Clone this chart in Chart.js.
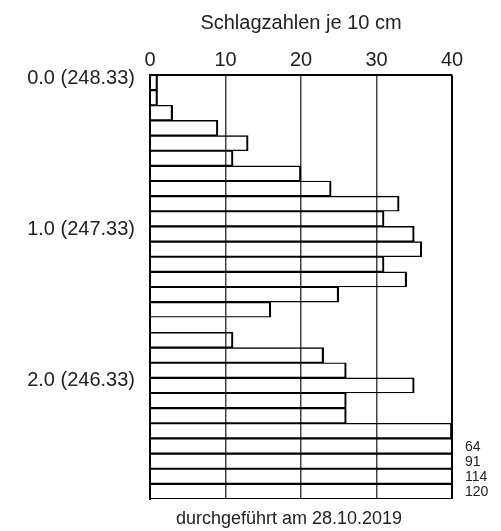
<!DOCTYPE html>
<html>
<head>
<meta charset="utf-8">
<script src="https://cdn.jsdelivr.net/npm/chart.js@4/dist/chart.umd.min.js"></script>
<style>
  html, body { margin: 0; padding: 0; background: #fff; }
  #wrap { width: 501px; height: 531px; }
</style>
</head>
<body>
<div id="wrap"><canvas id="chart"></canvas></div>
<script>
// Tiefe (Oberkante je 10-cm-Abschnitt, m) und Schlagzahlen
const depthTop = [0.0, 0.1, 0.2, 0.3, 0.4, 0.5, 0.6, 0.7, 0.8, 0.9,
                  1.0, 1.1, 1.2, 1.3, 1.4, 1.5, 1.6, 1.7, 1.8, 1.9,
                  2.0, 2.1, 2.2, 2.3, 2.4, 2.5, 2.6, 2.7];
const blows = [1, 1, 3, 9, 13, 11, 20, 24, 33, 31,
               35, 36, 31, 34, 25, 16, 0, 11, 23, 26,
               35, 26, 26, 40, 64, 91, 114, 120];

const depthTicks = [0, 1, 2];
const depthTickLabels = ['0.0 (248.33)', '1.0 (247.33)', '2.0 (246.33)'];
const xTicksMax = 40;

const titleTop = 'Schlagzahlen je 10 cm';
const titleBottom = 'durchgeführt am 28.10.2019';

Chart.defaults.font.family = '"Liberation Sans", Arial, sans-serif';
Chart.defaults.color = '#222';

// Werte über dem Achsenende rechts neben dem Rahmen anschreiben
const overflowLabels = {
  id: 'overflowLabels',
  afterDatasetsDraw(chart) {
    const { ctx, scales: { x } } = chart;
    const meta = chart.getDatasetMeta(0);
    ctx.save();
    ctx.font = '14px "Liberation Sans", Arial, sans-serif';
    ctx.fillStyle = '#222';
    ctx.textAlign = 'left';
    ctx.textBaseline = 'middle';
    blows.forEach((v, i) => {
      if (v > x.max) ctx.fillText(String(v), x.right + 13, meta.data[i].y + 1);
    });
    ctx.restore();
  }
};

// Fußzeile unter dem Diagramm
const footNote = {
  id: 'footNote',
  afterDraw(chart) {
    const { ctx, chartArea } = chart;
    ctx.save();
    ctx.font = '18px "Liberation Sans", Arial, sans-serif';
    ctx.fillStyle = '#222';
    ctx.textAlign = 'center';
    ctx.textBaseline = 'middle';
    ctx.fillText(titleBottom, (chartArea.left + chartArea.right) / 2 - 12, chartArea.bottom + 20);
    ctx.restore();
  }
};

const ctx = document.getElementById('chart').getContext('2d');
new Chart(ctx, {
  type: 'bar',
  data: {
    datasets: [{
      label: 'Schlagzahlen',
      data: blows.map((v, i) => ({ x: v, y: depthTop[i] + 0.05 })),
      backgroundColor: 'rgba(0,0,0,0)',
      borderColor: '#000',
      borderWidth: { top: 0.75, bottom: 0.75, right: 1.5, left: 0 },
      categoryPercentage: 1,
      barPercentage: 1,
      clip: 0
    }]
  },
  options: {
    indexAxis: 'y',
    responsive: true,
    maintainAspectRatio: false,
    animation: false,
    layout: { padding: { left: 0, right: 49, top: 0, bottom: 32 } },
    plugins: {
      legend: { display: false },
      tooltip: { enabled: false },
      title: { display: false }
    },
    scales: {
      x: {
        type: 'linear',
        position: 'top',
        min: 0,
        max: xTicksMax,
        ticks: { stepSize: 10, font: { size: 20 }, padding: 3, color: '#222' },
        grid: {
          drawTicks: false,
          color: c => c.tick && c.tick.value === xTicksMax ? '#000' : '#444',
          lineWidth: c => c.tick && c.tick.value === xTicksMax ? 2 : 1.5
        },
        border: { color: '#000', width: 2 },
        title: {
          display: true,
          text: titleTop,
          color: '#222',
          font: { size: 20 },
          padding: { top: 11, bottom: 0 }
        },
        afterFit: s => { s.height = 75; }
      },
      y: {
        type: 'linear',
        reverse: true,
        offset: false,
        min: 0,
        max: 2.8,
        grid: { display: false, drawTicks: false },
        border: { color: '#000', width: 2 },
        afterBuildTicks: s => { s.ticks = depthTicks.map(v => ({ value: v })); },
        ticks: {
          font: { size: 20 },
          padding: 15,
          labelOffset: 3,
          color: '#222',
          callback: (v, i) => depthTickLabels[i]
        },
        afterFit: s => { s.width = 150; }
      }
    }
  },
  plugins: [overflowLabels, footNote]
});
</script>
</body>
</html>
